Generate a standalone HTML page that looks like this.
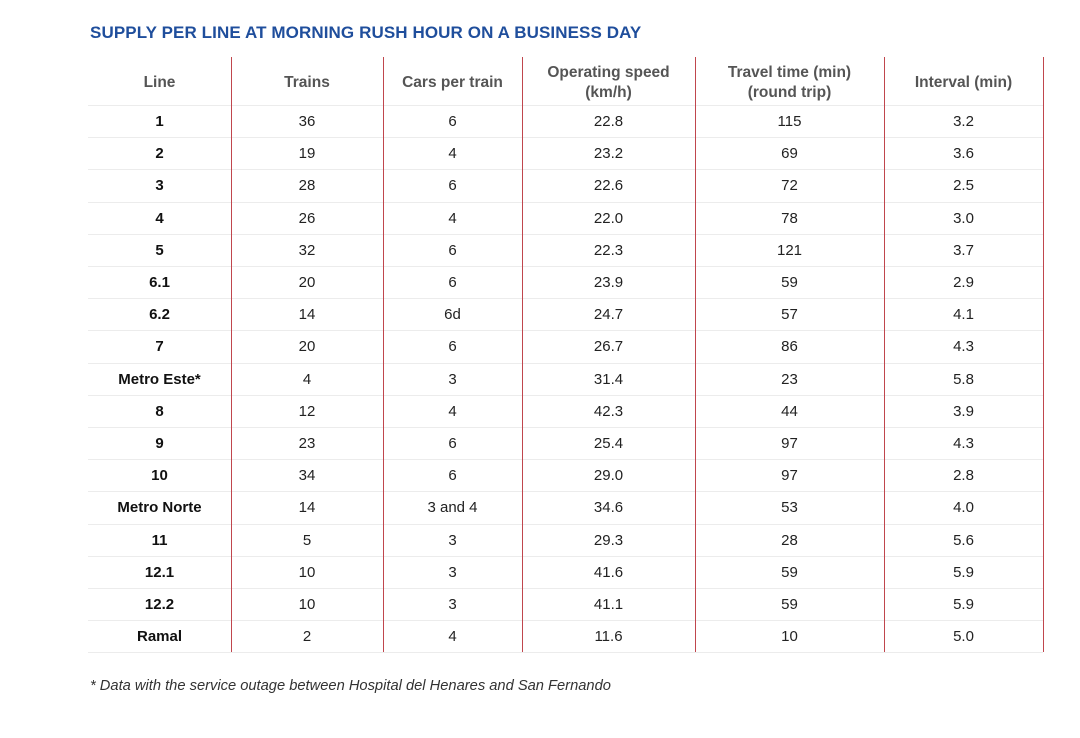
<!DOCTYPE html>
<html><head><style>
body{margin:0;width:1080px;height:738px;background:#fff;position:relative;font-family:"Liberation Sans",sans-serif;overflow:hidden}
.t{position:absolute;left:90px;top:23px;font-size:17px;font-weight:bold;color:#1f4e9c;letter-spacing:0.1px}
.v{position:absolute;top:57px;height:595px;width:1px;background:#c0464d;z-index:2}
.h{position:absolute;left:88px;width:955px;height:1px;background:#ececec}
.c{position:absolute;text-align:center;font-size:15px;color:#222;line-height:32px}
.hd{position:absolute;text-align:center;font-size:15.5px;font-weight:bold;color:#555;line-height:20px;display:flex;align-items:center;justify-content:center;top:59px;height:47px}
.b{font-weight:bold;color:#111}
.f{position:absolute;left:90px;top:678px;font-size:14.7px;font-style:italic;color:#333}
</style></head><body>
<div class="t">SUPPLY PER LINE AT MORNING RUSH HOUR ON A BUSINESS DAY</div>
<div id="g"></div>
<div class="f">* Data with the service outage between Hospital del Henares and San Fernando</div>
<script>
var cols=[88,231,383,522,695,884,1043];
var heads=["Line","Trains","Cars per train","Operating speed<br>(km/h)","Travel time (min)<br>(round trip)","Interval (min)"];
var rows=[["1",36,6,"22.8",115,"3.2"],["2",19,4,"23.2",69,"3.6"],["3",28,6,"22.6",72,"2.5"],["4",26,4,"22.0",78,"3.0"],["5",32,6,"22.3",121,"3.7"],["6.1",20,6,"23.9",59,"2.9"],["6.2",14,"6d","24.7",57,"4.1"],["7",20,6,"26.7",86,"4.3"],["Metro Este*",4,3,"31.4",23,"5.8"],["8",12,4,"42.3",44,"3.9"],["9",23,6,"25.4",97,"4.3"],["10",34,6,"29.0",97,"2.8"],["Metro Norte",14,"3 and 4","34.6",53,"4.0"],["11",5,3,"29.3",28,"5.6"],["12.1",10,3,"41.6",59,"5.9"],["12.2",10,3,"41.1",59,"5.9"],["Ramal",2,4,"11.6",10,"5.0"]];
var h="";
for(var i=1;i<cols.length;i++)h+='<div class="v" style="left:'+cols[i]+'px"></div>';
for(var k=0;k<=17;k++)h+='<div class="h" style="top:'+(105+k*32.2)+'px"></div>';
for(var j=0;j<6;j++)h+='<div class="hd" style="left:'+cols[j]+'px;width:'+(cols[j+1]-cols[j])+'px">'+heads[j]+'</div>';
rows.forEach(function(r,k){for(var j=0;j<6;j++)h+='<div class="c'+(j==0?' b':'')+'" style="left:'+cols[j]+'px;width:'+(cols[j+1]-cols[j])+'px;top:'+(106+k*32.2)+'px">'+r[j]+'</div>';});
document.getElementById("g").innerHTML=h;
</script>
</body></html>
